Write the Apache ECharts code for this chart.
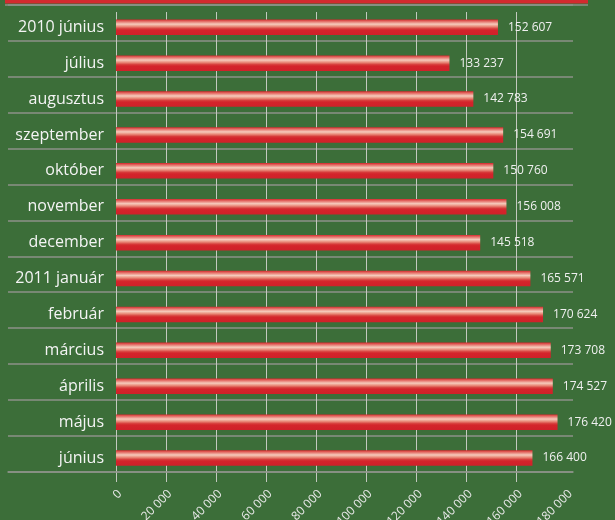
<!DOCTYPE html>
<html>
	<head>
		<meta charset="utf-8">
		<title>Havi adatok</title>
		<script src="https://cdn.jsdelivr.net/npm/echarts@6/dist/echarts.min.js"></script>
	</head>
	<body style="margin:0;">
		<div id="main" style="width: 615px; height: 520px;"></div>
		<script>
			// hónapok és értékek
			var months = ['2010 június','július','augusztus','szeptember','október','november','december','2011 január','február','március','április','május','június'];
			var values = [152607,133237,142783,154691,150760,156008,145518,165571,170624,173708,174527,176420,166400];
			var axisMax = 180000;
			var axisStep = 20000;

			var fmt = function(n){
				return String(n).replace(/\B(?=(\d{3})+(?!\d))/g,' ');
			}
			var font = 'Open Sans';

			var mychart = echarts.init(document.getElementById('main'));
			var option = {
				backgroundColor: '#3c6e39',
				animation: false,
				grid: [
					// 0: oszlopok
					{left:116, right:48.5, top:9.3, bottom:44, outerBoundsMode:'none'},
					// 1: vízszintes elválasztók
					{left:8, right:42, top:5, bottom:48.3, outerBoundsMode:'none'},
					// 2: függőleges rács
					{left:116, right:48.5, top:12, bottom:38, outerBoundsMode:'none'},
					// 3: tengelyfeliratok (kicsit jobbra tolva)
					{left:120, right:44.5, top:12, bottom:38, outerBoundsMode:'none'}
				],
				xAxis: [
					{gridIndex:0, type:'value', min:0, max:axisMax, show:false},
					{gridIndex:1, type:'value', min:0, max:1, show:true,
						axisLine:{show:true, lineStyle:{color:'#8c9288', width:1.5}},
						axisTick:{show:false}, axisLabel:{show:false}, splitLine:{show:false}},
					{gridIndex:2, type:'value', min:0, max:axisMax, interval:axisStep,
						axisLine:{show:false}, axisTick:{show:false}, axisLabel:{show:false},
						splitLine:{show:true, showMaxLine:false, lineStyle:{color:'#c3c9bf', width:1}}},
					{gridIndex:3, type:'value', min:0, max:axisMax, interval:axisStep,
						axisLine:{show:false}, axisTick:{show:false}, splitLine:{show:false},
						axisLabel:{
							rotate:45, margin:10,
							color:'#e8e8e8', fontSize:12, fontFamily:font,
							formatter:function(v){ return fmt(v); }
						}}
				],
				yAxis: [
					{gridIndex:0, type:'category', data:months, inverse:true,
						axisLine:{show:false}, axisTick:{show:false}, splitLine:{show:false},
						axisLabel:{color:'#f4f4f4', fontSize:16, fontFamily:font, margin:12, padding:[0,0,3,0]}},
					{gridIndex:1, type:'category', data:months, inverse:true,
						axisLine:{show:false}, axisTick:{show:false}, axisLabel:{show:false},
						splitLine:{show:true, lineStyle:{color:'#8c9288', width:1.5}}},
					{gridIndex:2, type:'value', show:false},
					{gridIndex:3, type:'value', show:false}
				],
				graphic: [
					{type:'rect', shape:{x:5, y:0, width:583, height:3.5}, style:{fill:'#d42a2f'}, z:10},
					{type:'line', shape:{x1:5, y1:5, x2:588, y2:5}, style:{stroke:'#8c9288', lineWidth:1.5}, z:10}
				],
				series: [{
					type:'bar',
					xAxisIndex:0,
					yAxisIndex:0,
					data:values,
					barWidth:15.5,
					itemStyle:{
						color:new echarts.graphic.LinearGradient(0,0,0,1,[
							{offset:0, color:'#d3282e'},
							{offset:0.08, color:'#df5752'},
							{offset:0.3, color:'#f6cbbc'},
							{offset:0.45, color:'#e98b7a'},
							{offset:0.6, color:'#d73a39'},
							{offset:0.7, color:'#d4242b'},
							{offset:1, color:'#cf2129'}
						])
					},
					label:{
						show:true,
						position:'right',
						distance:10,
						color:'#f0f0f0',
						fontSize:12,
						fontFamily:font,
						formatter:function(p){ return fmt(p.value); }
					}
				}]
			}
			mychart.setOption(option);
		</script>
	</body>
</html>
